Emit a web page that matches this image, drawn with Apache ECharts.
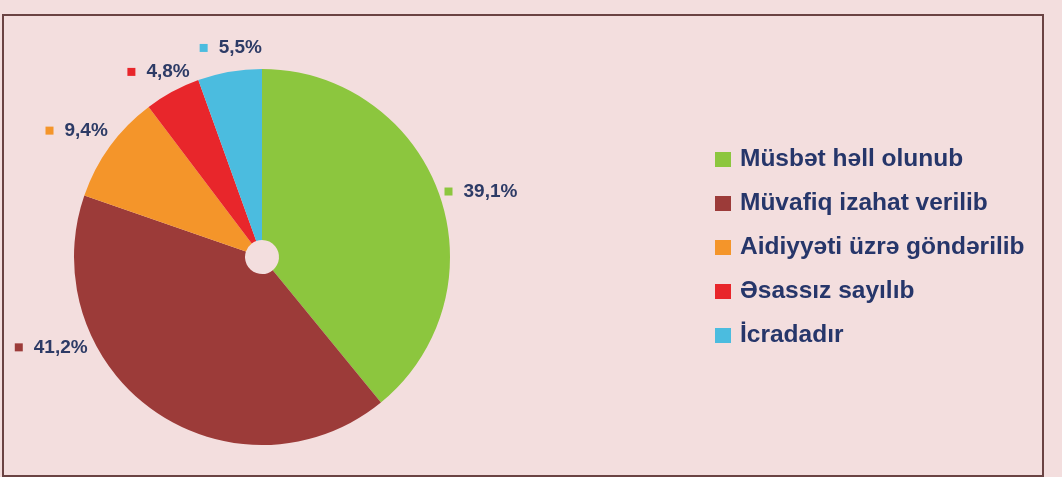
<!DOCTYPE html>
<html>
<head>
<meta charset="utf-8">
<script src="https://cdn.jsdelivr.net/npm/echarts@6/dist/echarts.min.js"></script>
<style>
  html, body { margin: 0; padding: 0; background: #f3dede; }
  #frame { position: absolute; left: 2px; top: 14px; width: 1038px; height: 459px; border: 2px solid #6a4343; box-sizing: content-box; }
  #chart { position: absolute; left: 0; top: 0; width: 1062px; height: 477px; }
</style>
</head>
<body>
<div id="frame"></div>
<div id="chart"></div>
<script>
const categories = ['Müsbət həll olunub', 'Müvafiq izahat verilib', 'Aidiyyəti üzrə göndərilib', 'Əsassız sayılıb', 'İcradadır'];
const values = [39.1, 41.2, 9.4, 4.8, 5.5];
const colors = ['#8cc63e', '#9c3b39', '#f4952a', '#e8262b', '#4bbcdf'];

// label placement tweaks (styling offsets from default outside position)
const labelShift = [[-19, 1], [-46, -72], [21, -10], [37, -11], [49, -14]];

const rich = { t: { fontSize: 19, fontWeight: 'bold', color: '#2d3b66', fontFamily: 'Liberation Sans', padding: [0, 0, 0, 11] } };
colors.forEach((c, i) => { rich['s' + i] = { width: 8, height: 8, backgroundColor: c }; });

const chart = echarts.init(document.getElementById('chart'), null, { renderer: 'canvas' });
chart.setOption({
  backgroundColor: 'transparent',
  color: colors,
  legend: {
    orient: 'vertical',
    left: 710,
    top: 142,
    icon: 'rect',
    itemWidth: 16,
    itemHeight: 15,
    itemGap: 19,
    selectedMode: false,
    data: categories,
    textStyle: { fontSize: 24.5, lineHeight: 25, fontWeight: 'bold', color: '#26366a', fontFamily: 'Liberation Sans', padding: [0, 0, 0, 4] }
  },
  series: [{
    type: 'pie',
    center: [262, 257],
    radius: [17, 188],
    startAngle: 90,
    clockwise: true,
    avoidLabelOverlap: false,
    animation: false,
    data: categories.map((n, i) => ({ name: n, value: values[i] })),
    label: {
      show: true,
      position: 'outside',
      formatter: p => '{s' + p.dataIndex + '|}{t|' + String(p.value).replace('.', ',') + '%}',
      rich: rich
    },
    labelLine: { show: false, length: 10, length2: 10 },
    labelLayout: p => ({ dx: labelShift[p.dataIndex][0], dy: labelShift[p.dataIndex][1] }),
    itemStyle: { borderWidth: 0 },
    emphasis: { disabled: true }
  }]
});
</script>
</body>
</html>
